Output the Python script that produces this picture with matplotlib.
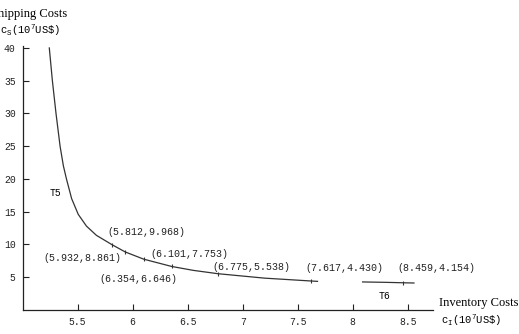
import matplotlib.pyplot as plt

plt.rcParams['mathtext.fontset'] = 'custom'
plt.rcParams['mathtext.tt'] = 'Liberation Mono'
plt.rcParams['mathtext.rm'] = 'Liberation Mono'

# T5 curve
t5_x = [5.242, 5.270, 5.303, 5.340, 5.370, 5.398, 5.445, 5.505, 5.58, 5.67,
        5.812, 5.932, 6.101, 6.354, 6.55, 6.775, 7.2, 7.617, 7.68]
t5_y = [40, 35, 30, 25, 22, 20, 17.0, 14.6, 12.8, 11.4,
        9.968, 8.861, 7.753, 6.646, 6.05, 5.538, 4.86, 4.430, 4.37]
# T6 segment
t6_x = [8.09, 8.30, 8.459, 8.557]
t6_y = [4.28, 4.22, 4.154, 4.12]

# marked solutions
pts_x = [5.812, 5.932, 6.101, 6.354, 6.775, 7.617, 8.459]
pts_y = [9.968, 8.861, 7.753, 6.646, 5.538, 4.430, 4.154]
pts_lbl = ["(5.812,9.968)", "(5.932,8.861)", "(6.101,7.753)", "(6.354,6.646)",
           "(6.775,5.538)", "(7.617,4.430)", "(8.459,4.154)"]
lbl_pos = [(5.77, 11.9), (5.185, 8.0), (6.157, 8.6), (5.70, 4.66),
           (6.724, 6.5), (7.566, 6.36), (8.405, 6.36)]

xticks = [5.5, 6, 6.5, 7, 7.5, 8, 8.5]
yticks = [5, 10, 15, 20, 25, 30, 35, 40]

fig = plt.figure(figsize=(5.19, 3.34), dpi=100)
ax = fig.add_axes([0.0437, 0.0719, 0.7906, 0.7904])
line_col = '#333333'
ax.plot(t5_x, t5_y, color=line_col, lw=0.9)
ax.plot(t6_x, t6_y, color=line_col, lw=0.9)
ax.plot(pts_x, pts_y, ls='none', marker='|', ms=3.5, mew=0.8, color=line_col)

for lbl, (lx, ly) in zip(pts_lbl, lbl_pos):
    ax.text(lx, ly, lbl, family='Liberation Mono', fontsize=7.2, color='#222222',
            ha='left', va='center', clip_on=False)

ax.text(5.248, 17.9, "T5", family='Liberation Mono', fontsize=7, ha='left', va='center')
ax.text(8.24, 2.1, "T6", family='Liberation Mono', fontsize=7, ha='left', va='center')

ax.set_xlim(5.0, 8.73)
ax.set_ylim(0, 40.3)
ax.set_xticks(xticks)
ax.set_xticklabels([f"{t:g}" for t in xticks])
ax.set_yticks(yticks)
ax.set_yticklabels([str(t) for t in yticks])
ax.tick_params(direction='in', length=4, width=0.8, labelsize=7, colors='#222222', pad=5)
for lab in ax.get_xticklabels() + ax.get_yticklabels():
    lab.set_family('Liberation Mono')
for s in ['top', 'right']:
    ax.spines[s].set_visible(False)
for s in ['left', 'bottom']:
    ax.spines[s].set_linewidth(0.9)
    ax.spines[s].set_color('#222222')

fig.text(67 / 519, 1 - 14 / 334, "Shipping Costs", family='Liberation Serif',
         fontsize=9, ha='right', va='center')
fig.text(0 / 519, 1 - 30 / 334, r"$\mathtt{c_{S}(10^{7}US\$)}$", fontsize=7.6,
         ha='left', va='center')
fig.text(439 / 519, 1 - 303 / 334, "Inventory Costs", family='Liberation Serif',
         fontsize=9, ha='left', va='center')
fig.text(441 / 519, 1 - 320 / 334, r"$\mathtt{c_{I}(10^{7}US\$)}$", fontsize=7.6,
         ha='left', va='center')

fig.savefig("out.png", dpi=100)
